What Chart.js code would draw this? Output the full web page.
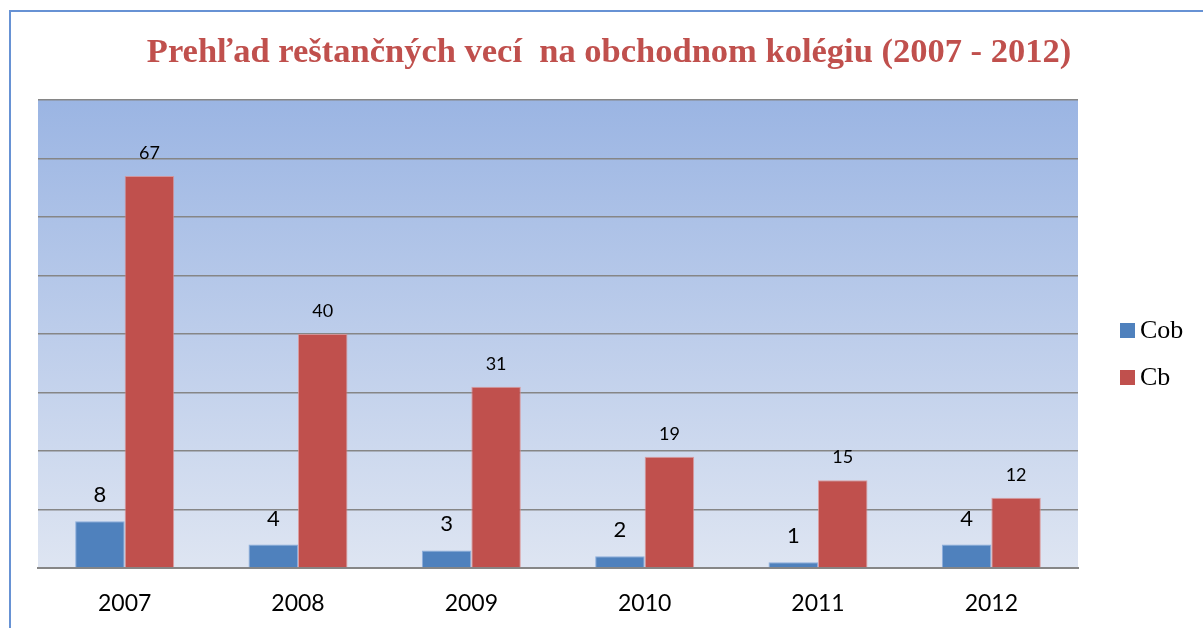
<!DOCTYPE html>
<html>
<head>
<meta charset="utf-8">
<script src="https://cdn.jsdelivr.net/npm/chart.js@4/dist/chart.umd.min.js"></script>
<style>
html,body{margin:0;padding:0;background:#fff;}
#wrap{width:1203px;height:628px;position:relative;}
</style>
</head>
<body>
<div id="wrap"><canvas id="c" width="1203" height="628"></canvas></div>
<script>
const categories = ['2007', '2008', '2009', '2010', '2011', '2012'];
const cobValues = [8, 4, 3, 2, 1, 4];
const cbValues = [67, 40, 31, 19, 15, 12];
const seriesNames = ['Cob', 'Cb'];
const seriesColors = ['#4f81bd', '#c0504d'];
const yMin = 0, yMax = 80, yStep = 10;
const titleText = 'Prehľad reštančných vecí  na obchodnom kolégiu (2007 - 2012)';

const decor = {
  id: 'decor',
  beforeDraw(chart) {
    const ctx = chart.ctx, a = chart.chartArea;
    ctx.save();
    ctx.fillStyle = '#fff';
    ctx.fillRect(0, 0, chart.width, chart.height);
    // frame
    ctx.strokeStyle = '#6792d4';
    ctx.lineWidth = 2;
    ctx.beginPath();
    ctx.moveTo(10, chart.height);
    ctx.lineTo(10, 11);
    ctx.lineTo(chart.width, 11);
    ctx.stroke();
    // plot gradient
    const g = ctx.createLinearGradient(0, a.top, 0, a.bottom);
    g.addColorStop(0, 'rgb(155,181,227)');
    g.addColorStop(1, 'rgb(222,229,242)');
    ctx.fillStyle = g;
    ctx.fillRect(a.left, a.top, a.right - a.left, a.bottom - a.top);
    // title
    ctx.fillStyle = '#c0504d';
    ctx.font = 'bold 34.5px "Liberation Serif"';
    ctx.textAlign = 'center';
    ctx.textBaseline = 'alphabetic';
    ctx.fillText(titleText, 609, 62);
    ctx.restore();
  },
  afterDatasetsDraw(chart) {
    const ctx = chart.ctx;
    ctx.save();
    ctx.fillStyle = '#000';
    ctx.textAlign = 'center';
    ctx.textBaseline = 'alphabetic';
    chart.data.datasets.forEach((ds, di) => {
      const meta = chart.getDatasetMeta(di);
      ctx.font = di === 0 ? '22px Lato' : '18px Lato';
      const off = di === 0 ? 19 : 17;
      meta.data.forEach((el, i) => {
        ctx.fillText(String(ds.data[i]), el.x, el.y - off);
      });
    });
    // legend
    const ys = [323, 370];
    chart.data.datasets.forEach((ds, di) => {
      ctx.fillStyle = ds.backgroundColor;
      ctx.fillRect(1120, ys[di], 15, 15);
      ctx.fillStyle = '#000';
      ctx.font = '26px "Liberation Serif"';
      ctx.textAlign = 'left';
      ctx.fillText(ds.label, 1140, ys[di] + 15);
    });
    ctx.restore();
  }
};

new Chart(document.getElementById('c'), {
  type: 'bar',
  data: {
    labels: categories,
    datasets: [
      { label: seriesNames[0], data: cobValues, backgroundColor: seriesColors[0], borderColor: 'rgba(120,160,215,0.8)', borderWidth: 1 },
      { label: seriesNames[1], data: cbValues, backgroundColor: seriesColors[1], borderColor: 'rgba(220,140,140,0.8)', borderWidth: 1 }
    ]
  },
  options: {
    responsive: false,
    animation: false,
    devicePixelRatio: 1,
    layout: { padding: { top: 100, left: 38, right: 125, bottom: 0 } },
    plugins: { legend: { display: false }, title: { display: false }, tooltip: { enabled: false } },
    datasets: { bar: { categoryPercentage: 0.571, barPercentage: 1.0 } },
    scales: {
      x: {
        grid: { display: false, drawTicks: false },
        border: { display: true, color: '#868686', width: 2 },
        ticks: { color: '#000', font: { family: 'Lato', size: 23 }, padding: 22 },
        afterFit(s) { s.height = 60; }
      },
      y: {
        min: yMin, max: yMax,
        ticks: { display: false, stepSize: yStep },
        grid: { color: '#868686', lineWidth: 1.5, drawTicks: false },
        border: { display: false }
      }
    }
  },
  plugins: [decor]
});
</script>
</body>
</html>
